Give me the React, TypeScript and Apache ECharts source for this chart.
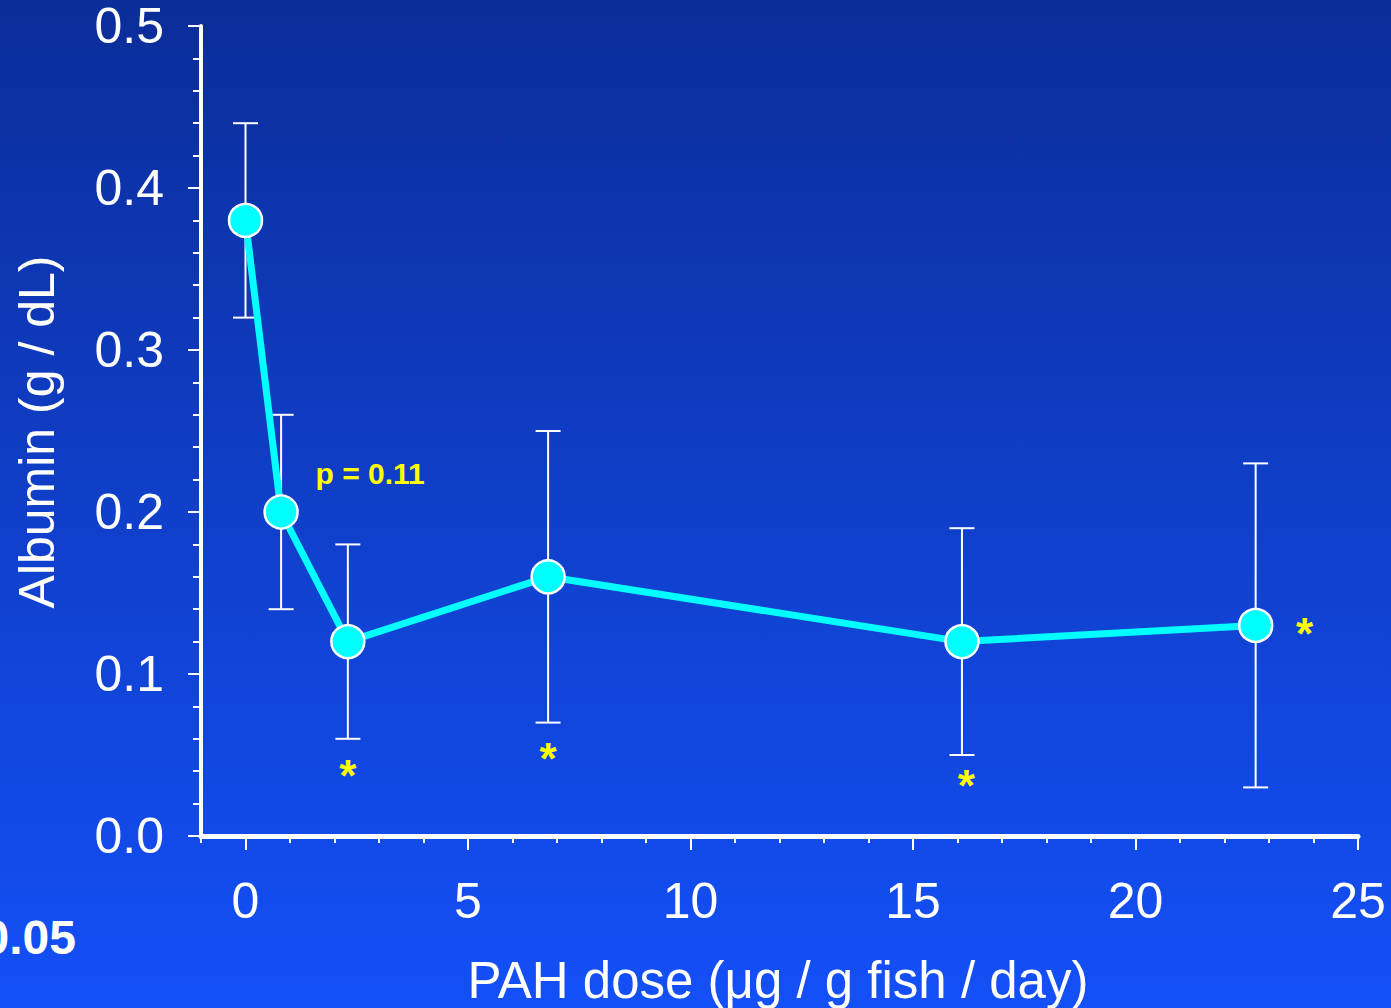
import React, { useEffect, useRef } from 'react';
import * as echarts from 'echarts';

// PAH dose (µg / g fish / day) and albumin (g / dL)
const doses = [0, 0.8, 2.3, 6.8, 16.1, 22.7];
const albumin = [0.38, 0.2, 0.12, 0.16, 0.12, 0.13];
const upperBar = [0.44, 0.26, 0.18, 0.25, 0.19, 0.23];
const lowerBar = [0.32, 0.14, 0.06, 0.07, 0.05, 0.03];

// significance markers (*)
const sigX = [2.3, 6.8, 16.2, 23.8];
const sigY = [0.042, 0.053, 0.036, 0.13];

// p-value note
const noteX = [2.8];
const noteY = [0.2235];
const noteText = 'p = 0.11';

const xMajorTicks = [0, 5, 10, 15, 20, 25];
const xTitle = 'PAH dose (\u03bcg / g fish / day)';
const yTitle = 'Albumin (g / dL)';
const footText = '0.05';

const FONT = '"Liberation Sans", Arial, Helvetica, sans-serif';

export default function App() {
  const ref = useRef<HTMLDivElement>(null);

  useEffect(() => {
    if (!ref.current) return;
    const chart = echarts.init(ref.current, undefined, { renderer: 'svg' });

    const errData = doses.map((d, i) => [d, lowerBar[i], upperBar[i]]);
    const lineData = doses.map((d, i) => [d, albumin[i]]);
    const sigData = sigX.map((x, i) => [x, sigY[i]]);
    const noteData = noteX.map((x, i) => [x, noteY[i]]);

    const option: any = {
      animation: false,
      backgroundColor: new echarts.graphic.LinearGradient(0, 0, 0, 1, [
        { offset: 0, color: '#0b2d99' },
        { offset: 1, color: '#1450f8' },
      ]),
      textStyle: { fontFamily: FONT },
      grid: {
        left: 201,
        right: 33,
        top: 26,
        bottom: 172,
        containLabel: false,
        outerBoundsMode: 'none',
      },
      xAxis: [
        {
          type: 'value',
          min: -1,
          max: 25,
          position: 'bottom',
          splitLine: { show: false },
          axisLine: { show: true, onZero: false, lineStyle: { color: '#ffffff', width: 5 } },
          axisTick: {
            show: true,
            length: 14,
            customValues: xMajorTicks,
            lineStyle: { color: '#ffffff', width: 2 },
          },
          axisLabel: {
            show: true,
            customValues: xMajorTicks,
            color: '#ffffff',
            fontSize: 50,
            fontFamily: FONT,
            margin: 40,
          },
        },
        {
          type: 'value',
          min: -1,
          max: 25,
          interval: 1,
          position: 'bottom',
          splitLine: { show: false },
          axisLine: { show: false, onZero: false },
          axisTick: { show: true, length: 7, lineStyle: { color: '#ffffff', width: 2 } },
          axisLabel: { show: false },
        },
      ],
      yAxis: {
        type: 'value',
        min: 0,
        max: 0.5,
        interval: 0.1,
        splitLine: { show: false },
        axisLine: { show: true, onZero: false, lineStyle: { color: '#ffffff', width: 4 } },
        axisTick: { show: true, length: 13, lineStyle: { color: '#ffffff', width: 2 } },
        minorTick: { show: true, splitNumber: 5, length: 8, lineStyle: { color: '#ffffff', width: 2 } },
        axisLabel: {
          color: '#ffffff',
          fontSize: 50,
          lineHeight: 38,
          fontFamily: FONT,
          margin: 37,
          formatter: (v: number) => v.toFixed(1),
        },
      },
      series: [
        {
          type: 'custom',
          xAxisIndex: 0,
          z: 2,
          data: errData,
          encode: { x: 0, y: [1, 2] },
          renderItem: (params: any, api: any) => {
            const x = api.value(0);
            const lo = api.coord([x, api.value(1)]);
            const hi = api.coord([x, api.value(2)]);
            const w = 12.5;
            const st = { stroke: '#ffffff', lineWidth: 2 };
            return {
              type: 'group',
              children: [
                { type: 'line', shape: { x1: hi[0], y1: hi[1], x2: lo[0], y2: lo[1] }, style: st },
                { type: 'line', shape: { x1: hi[0] - w, y1: hi[1], x2: hi[0] + w, y2: hi[1] }, style: st },
                { type: 'line', shape: { x1: lo[0] - w, y1: lo[1], x2: lo[0] + w, y2: lo[1] }, style: st },
              ],
            };
          },
        },
        {
          type: 'line',
          xAxisIndex: 0,
          z: 3,
          data: lineData,
          symbol: 'circle',
          symbolSize: 33,
          lineStyle: { color: '#00ffff', width: 7 },
          itemStyle: { color: '#00ffff', borderColor: '#ffffff', borderWidth: 2.5 },
        },
        {
          type: 'scatter',
          xAxisIndex: 0,
          z: 4,
          data: sigData,
          symbolSize: 1,
          itemStyle: { color: 'rgba(0,0,0,0)', opacity: 1 },
          label: {
            show: true,
            position: 'inside',
            formatter: () => '*',
            color: '#ffff00',
            opacity: 1,
            textBorderWidth: 0,
            fontSize: 44,
            fontWeight: 'bold',
            fontFamily: FONT,
            offset: [0, 8],
          },
        },
        {
          type: 'scatter',
          xAxisIndex: 0,
          z: 4,
          data: noteData,
          symbolSize: 1,
          itemStyle: { color: 'rgba(0,0,0,0)', opacity: 1 },
          label: {
            show: true,
            position: 'inside',
            formatter: () => noteText,
            color: '#ffff00',
            opacity: 1,
            textBorderWidth: 0,
            fontSize: 30,
            fontWeight: 'bold',
            fontFamily: FONT,
          },
        },
      ],
      graphic: [
        {
          type: 'text',
          x: 37,
          y: 432,
          rotation: Math.PI / 2,
          style: {
            text: yTitle,
            fill: '#ffffff',
            font: `50px ${FONT}`,
            textAlign: 'center',
            textVerticalAlign: 'middle',
          },
        },
        {
          type: 'text',
          x: 778,
          y: 980,
          style: {
            text: xTitle,
            fill: '#ffffff',
            font: `51px ${FONT}`,
            textAlign: 'center',
            textVerticalAlign: 'middle',
          },
        },
        {
          type: 'text',
          x: 76,
          y: 937,
          style: {
            text: footText,
            fill: '#ffffff',
            font: `bold 48px ${FONT}`,
            textAlign: 'right',
            textVerticalAlign: 'middle',
          },
        },
      ],
    };

    chart.setOption(option);
    return () => chart.dispose();
  }, []);

  return (
    <div
      ref={ref}
      style={{ position: 'fixed', left: 0, top: 0, width: 1391, height: 1008 }}
    />
  );
}
